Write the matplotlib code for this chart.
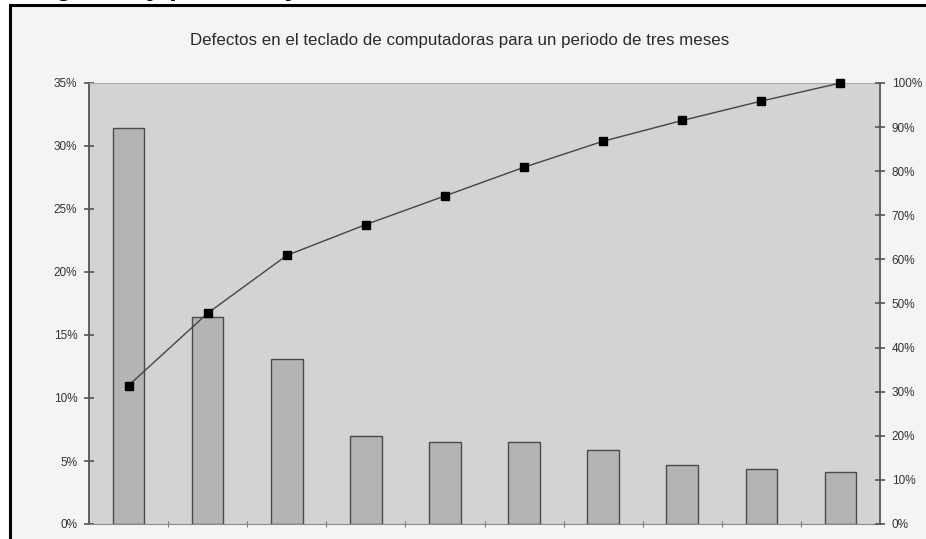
import matplotlib
matplotlib.use('Agg')
import matplotlib.pyplot as plt
from matplotlib.patches import Rectangle
from matplotlib.ticker import FuncFormatter
import numpy as np

# Share of keyboard defects per category (%), sorted descending
defect_share = [31.4, 16.4, 13.1, 7.0, 6.5, 6.5, 5.9, 4.7, 4.4, 4.1]
# Cumulative share (%) for the Pareto line
cumulative_share = [31.4, 47.8, 60.9, 67.9, 74.4, 80.9, 86.8, 91.5, 95.9, 100.0]

left_ticks = [0, 5, 10, 15, 20, 25, 30, 35]
right_ticks = [0, 10, 20, 30, 40, 50, 60, 70, 80, 90, 100]

title = 'Defectos en el teclado de computadoras para un periodo de tres meses'
heading = 'Histograma y porcentaje'

plt.rcParams['font.family'] = ['Liberation Sans', 'DejaVu Sans']

W, H = 926, 539
fig = plt.figure(figsize=(W / 100, H / 100), dpi=100)
fig.patch.set_facecolor('white')

# framed panel, cut at the right and bottom edges
bg = fig.add_axes([0, 0, 1, 1], zorder=0)
bg.set_xlim(0, W)
bg.set_ylim(H, 0)
bg.axis('off')
bg.add_patch(Rectangle((9.5, 5), W + 50, H + 50, facecolor='#f4f4f4',
                       edgecolor='black', linewidth=2.2))

# bold heading sitting above the frame, mostly clipped
fig.text(-14 / W, 1 + 5 / H, heading, fontsize=20, fontweight='bold',
         color='black', ha='left', va='baseline')

ax = fig.add_axes([89 / W, 1 - 524 / H, (880 - 89) / W, (524 - 83) / H],
                  zorder=2)
ax.set_facecolor('#d3d3d3')

x = np.arange(len(defect_share))
ax.bar(x, defect_share, width=0.4, color='#b4b4b4',
       edgecolor='#4a4a4a', linewidth=1.0, zorder=2)
ax.set_xlim(-0.5, len(defect_share) - 0.5)
ax.set_ylim(0, 35)
ax.set_yticks(left_ticks)
ax.yaxis.set_major_formatter(FuncFormatter(lambda v, p: f'{v:.0f}%'))
ax.set_xticks(x[:-1] + 0.5)
ax.set_xticklabels([])
ax.tick_params(axis='y', direction='inout', length=7, width=1.2,
               color='#555555', labelsize=8.5, labelcolor='#333333', pad=5)
ax.tick_params(axis='x', direction='inout', length=5, width=0.8,
               color='#777777')

for side in ['left', 'right']:
    ax.spines[side].set_color('#555555')
    ax.spines[side].set_linewidth(1.3)
ax.spines['bottom'].set_color('#8a8a8a')
ax.spines['top'].set_color('#aaaaaa')

ax2 = ax.twinx()
ax2.plot(x, cumulative_share, color='#444444', linewidth=1.0,
         marker='s', markersize=6, markerfacecolor='black',
         markeredgecolor='black', zorder=3, clip_on=False)
ax2.set_ylim(0, 100)
ax2.set_yticks(right_ticks)
ax2.yaxis.set_major_formatter(FuncFormatter(lambda v, p: f'{v:.0f}%'))
ax2.tick_params(axis='y', direction='inout', length=7, width=1.2,
                color='#555555', labelsize=8.5, labelcolor='#333333', pad=5)
for s in ax2.spines.values():
    s.set_visible(False)

fig.text(460 / W, 1 - 40 / H, title, fontsize=12.2, color='#2a2a2a',
         ha='center', va='center')

fig.savefig('out.png', dpi=100)
